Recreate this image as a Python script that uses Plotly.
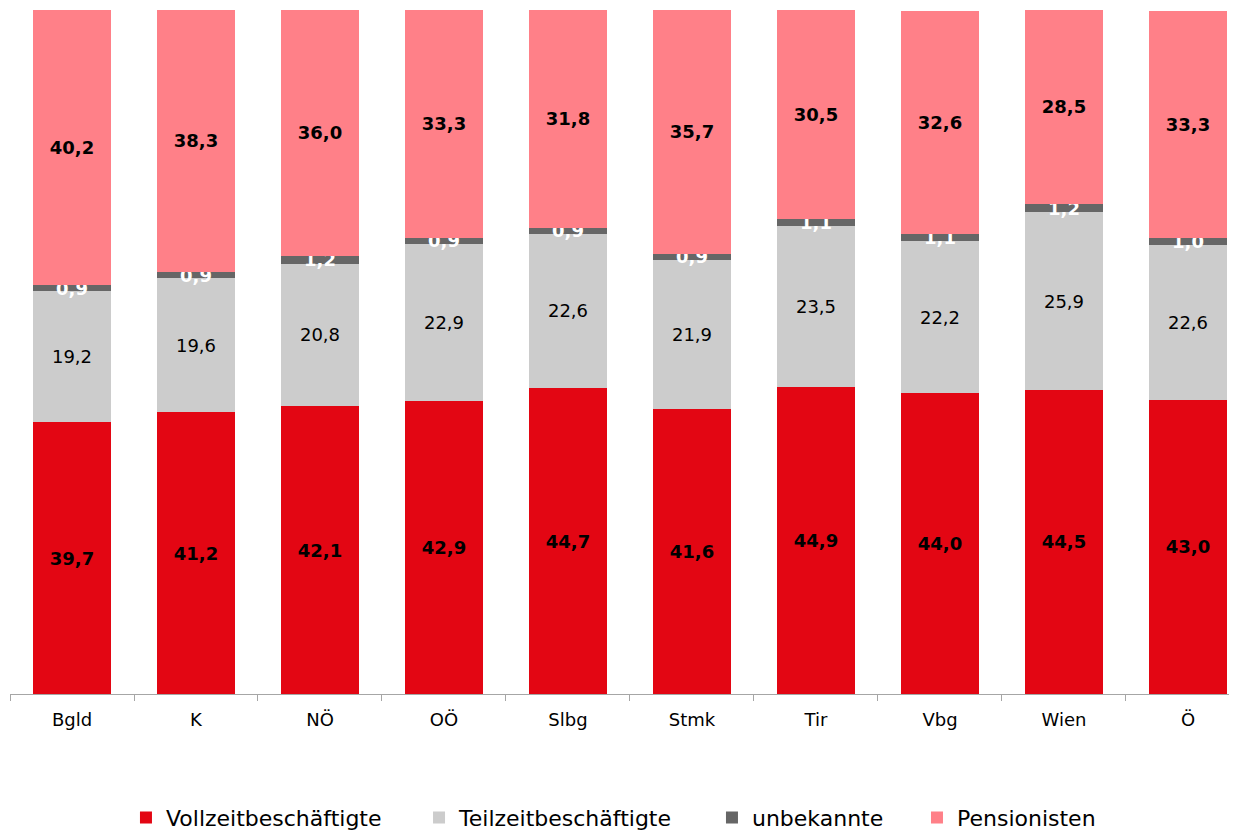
import plotly.graph_objects as go

categories = ["Bgld", "K", "NÖ", "OÖ", "Slbg", "Stmk", "Tir", "Vbg", "Wien", "Ö"]
vollzeit = [39.7, 41.2, 42.1, 42.9, 44.7, 41.6, 44.9, 44.0, 44.5, 43.0]
teilzeit = [19.2, 19.6, 20.8, 22.9, 22.6, 21.9, 23.5, 22.2, 25.9, 22.6]
unbekannt = [0.9, 0.9, 1.2, 0.9, 0.9, 0.9, 1.1, 1.1, 1.2, 1.0]
pensionisten = [40.2, 38.3, 36.0, 33.3, 31.8, 35.7, 30.5, 32.6, 28.5, 33.3]

FONT = "DejaVu Sans"

series = [
    ("Vollzeitbeschäftigte", vollzeit, "#E30613", "black", True, "legend", 0.0939),
    ("Teilzeitbeschäftigte", teilzeit, "#CCCCCC", "black", False, "legend2", 0.3312),
    ("unbekannte", unbekannt, "#666666", "white", True, "legend3", 0.5684),
    ("Pensionisten", pensionisten, "#FF8088", "black", True, "legend4", 0.7344),
]

fig = go.Figure()
legend_layout = {}
for name, vals, color, tcolor, bold, leg, lx in series:
    tmpl = "<b>%{y:.1f}</b>" if bold else "%{y:.1f}"
    fig.add_trace(go.Bar(
        x=categories, y=vals, name=name, legend=leg,
        marker=dict(color=color, line=dict(width=0)),
        width=0.63,
        texttemplate=tmpl,
        textposition="inside",
        insidetextanchor="middle",
        constraintext="none",
        textangle=0,
        textfont=dict(family=FONT, size=18, color=tcolor),
    ))
    legend_layout[leg] = dict(
        orientation="h", x=lx, xanchor="left", y=-0.181, yanchor="middle",
        font=dict(family=FONT, size=22, color="black"),
        itemwidth=30, bgcolor="rgba(0,0,0,0)",
    )

fig.update_layout(
    barmode="stack",
    width=1237, height=831,
    margin=dict(l=2, r=0, t=2, b=145),
    paper_bgcolor="white", plot_bgcolor="white",
    separators=",.",
    font=dict(family=FONT, color="black"),
    showlegend=True,
    xaxis=dict(
        range=[-0.5, 9.46],
        showline=True, linecolor="#A6A6A6", linewidth=1,
        ticks="outside", tickson="boundaries", ticklen=6, tickcolor="#A6A6A6",
        ticklabelstandoff=9,
        tickfont=dict(family=FONT, size=18, color="black"),
        showgrid=False,
    ),
    yaxis=dict(range=[0, 100], visible=False, showgrid=False),
    **legend_layout,
)

fig.write_html("out.html")
